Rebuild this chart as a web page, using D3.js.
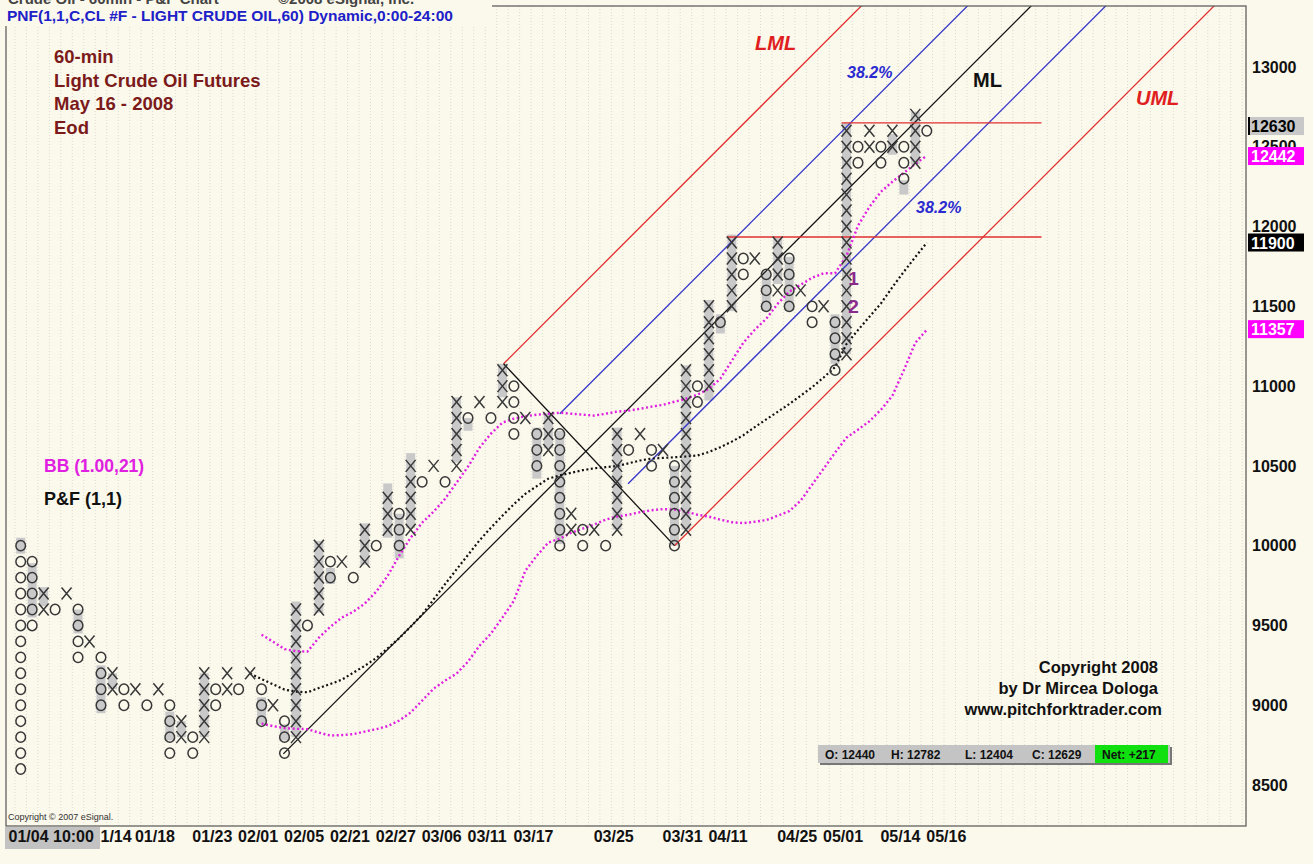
<!DOCTYPE html>
<html>
<head>
<meta charset="utf-8">
<script src="https://cdn.jsdelivr.net/npm/d3@7"></script>
<style>
  body { margin: 0; background: #fbf8ec; }
  svg { display: block; font-family: "Liberation Sans", Arial, sans-serif; }
</style>
</head>
<body>
<script>
var W = 1313, H = 864;

// P&F columns (box = 100), read column by column
var colType = ["O","O","X","O","X","O","X","O","X","O","X","O","X","O","X","O","X","O","X","O",
               "X","O","X","O","X","O","X","O","X","O","X","O","X","O","X","O","X","O","X","O",
               "X","O","X","O","X","O","X","O","X","O","X","O","X","O","X","O","X","O","X","O",
               "X","O","X","O","X","O","X","O","X","O","X","O","X","O","X","O","X","O","X","O"];
var colLow = [8600,9500,9600,9600,9700,9300,9400,9000,9100,9000, 9100,9000,9100,8700,8800,8700,8800,9000,9100,9100,
              9200,8900,9000,8700,8800,9500,9600,9800,9900,9800, 9900,10000,10100,10000,10100,10400,10500,10400,10500,10800,
              10900,10800,10900,10700,10800,10500,10600,10000,10100,10000, 10100,10000,10100,10600,10700,10500,10600,10000,10100,10900,
              11000,11400,11500,11700,11800,11500,11600,11500,11600,11400, 11500,11100,11200,12400,12500,12400,12500,12300,12400,12600];
var colHigh = [10000,9900,9700,9600,9700,9600,9400,9300,9200,9100, 9100,9000,9100,9000,8900,8800,9200,9100,9200,9100,
               9200,9100,9000,8900,9600,9500,10000,9900,9900,9800, 10100,10000,10300,10200,10500,10400,10500,10400,10900,10800,
               10900,10800,11100,11000,10800,10700,10800,10700,10200,10100, 10100,10000,10700,10600,10700,10600,10600,10500,11100,11000,
               11500,11400,11900,11800,11800,11700,11900,11800,11600,11500, 11500,11400,12600,12500,12600,12500,12600,12500,12700,12600];

// grey range shading behind some columns: [column, low, high]
var shades = [[0,9950,10050],[1,9550,9890],[2,9620,9740],[5,9450,9600],[7,8950,9250],[8,9100,9200],
              [13,8780,8960],[14,8800,8900],[16,8800,9200],[21,8880,9050],[23,8780,8880],[24,8800,9650],
              [26,9580,10030],[27,9760,9860],[30,9880,10140],[32,10050,10390],[33,9920,10200],[34,10110,10580],
              [38,10520,10930],[39,10720,10800],[42,10930,11140],[45,10420,10740],[46,10610,10830],[47,10010,10720],
              [52,10100,10740],[57,10000,10500],[58,10100,11130],[60,10910,11540],[61,11330,11450],[62,11470,11950],
              [65,11470,11720],[66,11640,11930],[67,11470,11810],[71,11140,11450],[72,11200,12650],[76,12450,12580],
              [77,12200,12290],[78,12390,12720]];

// Bollinger (1.00,21): middle from column 20, bands from column 21
var midStart = 20;
var midBand = [9198,9164,9131,9098,9085,9081,9108,9133,9160,9204, 9247,9296,9357,9420,9492,9568,9663,9759,9851,9942,
               10033,10113,10188,10260,10325,10373,10420,10440,10457,10473, 10485,10492,10499,10516,10534,10546,10550,10554,10559,10565,
               10587,10617,10652,10692,10743,10791,10839,10887,10940,10993, 11054,11119,11264,11351,11435,11518,11620,11717,11809,11899];
var bandStart = 21;
var upperBand = [9442,9398,9352,9339,9336,9424,9492,9549,9586,
                 9637,9712,9812,9937,10050,10144,10213,10294,10395,10495,
                 10614,10702,10771,10796,10811,10821,10827,10833,10827,10821,
                 10815,10827,10840,10846,10858,10871,10883,10902,10921,10946,
                 10984,11046,11159,11272,11353,11422,11516,11591,11635,11679,
                 11707,11707,11817,12005,12124,12218,12281,12337,12393,12444];
var lowerBand = [8885,8869,8857,8852,8850,8828,8810,8813,8819,
                 8835,8850,8869,8904,8954,9029,9104,9154,9198,9273,
                 9373,9449,9549,9655,9843,9937,10019,10044,10081,10107,
                 10132,10163,10182,10194,10210,10222,10229,10226,10213,10194,
                 10182,10163,10147,10141,10150,10160,10188,10216,10282,10382,
                 10482,10583,10677,10727,10780,10852,10940,11100,11272,11353];

// pitchfork: start points [column, price] and common slope (price per column)
var forkStartCol = [42.1, 47.0, 22.9, 52.95, 57.0];
var forkStartVal = [11140, 10827, 8695, 10388, 10000];
var forkColor = ["#e03030", "#3535c8", "#111111", "#3535c8", "#e03030"];
var forkSlope = 71.9;
var handle = [[42.1, 11140], [57.0, 10000]];
var hLines = [[72, 89, 12650], [62, 89, 11935]];

var yTicks = [8500, 9000, 9500, 10000, 10500, 11000, 11500, 12000, 12500, 13000];
var dateCols = [0, 7, 10, 15, 19, 23, 27, 31, 35, 39, 43, 50, 56, 60, 66, 70, 75, 79];
var dateLabels = ["01/04 10:00","1/14","01/18","01/23","02/01","02/05","02/21","02/27","03/06","03/11",
                  "03/17","03/25","03/31","04/11","04/25","05/01","05/14","05/16"];

var lastVals = [12630, 12442, 11900, 11357];
var lastBg = ["#c8c8c8", "#ff00ff", "#000000", "#ff00ff"];
var lastFg = ["#000000", "#ffffff", "#ffffff", "#ffffff"];

var ohlcLabels = ["O: 12440", "H: 12782", "L: 12404", "C: 12629", "Net: +217"];

var x = d3.scaleLinear().domain([0, 79]).range([20.7, 926.8]);
var y = d3.scaleLinear().domain([8500, 13000]).range([785, 67]);
var colW = x(1) - x(0);

var svg = d3.select("body").append("svg").attr("width", W).attr("height", H);
svg.append("rect").attr("width", W).attr("height", H).attr("fill", "#fbf8ec");

svg.append("defs").append("clipPath").attr("id", "plot")
    .append("rect").attr("x", 6).attr("y", 6).attr("width", 1240).attr("height", 820);

// faint dotted column grid
svg.append("g").selectAll("line")
    .data(d3.range(-1, 107)).enter()
    .append("line")
    .attr("x1", d => x(d) + colW / 2).attr("x2", d => x(d) + colW / 2)
    .attr("y1", 6).attr("y2", 826)
    .attr("stroke", "#dedad0").attr("stroke-width", 1)
    .attr("stroke-dasharray", "1,2");

var plot = svg.append("g").attr("clip-path", "url(#plot)");

// grey shading
plot.selectAll("rect.shade")
    .data(shades).enter()
    .append("rect")
    .attr("class", "shade")
    .attr("x", d => x(d[0]) - 4.5)
    .attr("y", d => y(d[2]))
    .attr("width", 9)
    .attr("height", d => y(d[1]) - y(d[2]))
    .attr("fill", "#c9c9c9");

// pitchfork lines
plot.selectAll("line.fork")
    .data(forkStartCol).enter()
    .append("line")
    .attr("x1", (d, i) => x(d))
    .attr("y1", (d, i) => y(forkStartVal[i]))
    .attr("x2", (d, i) => x(d + 80))
    .attr("y2", (d, i) => y(forkStartVal[i] + 80 * forkSlope))
    .attr("stroke", (d, i) => forkColor[i])
    .attr("stroke-width", 1.3);

plot.append("line")
    .attr("x1", x(handle[0][0])).attr("y1", y(handle[0][1]))
    .attr("x2", x(handle[1][0])).attr("y2", y(handle[1][1]))
    .attr("stroke", "#111").attr("stroke-width", 1.3);

plot.selectAll("line.hl")
    .data(hLines).enter()
    .append("line")
    .attr("x1", d => x(d[0]) - 5).attr("x2", d => x(d[1]))
    .attr("y1", d => y(d[2])).attr("y2", d => y(d[2]))
    .attr("stroke", "#e03030").attr("stroke-width", 1.4);

// Bollinger dotted curves
var line = d3.line().x(d => x(d[0])).y(d => y(d[1]));
function pts(start, arr) { return arr.map((v, i) => [start + i, v]); }

plot.append("path").datum(pts(bandStart, upperBand)).attr("d", line)
    .attr("fill", "none").attr("stroke", "#e020e0").attr("stroke-width", 2.4).attr("stroke-dasharray", "2,2.5");
plot.append("path").datum(pts(bandStart, lowerBand)).attr("d", line)
    .attr("fill", "none").attr("stroke", "#e020e0").attr("stroke-width", 2.4).attr("stroke-dasharray", "2,2.5");
plot.append("path").datum(pts(midStart, midBand)).attr("d", line)
    .attr("fill", "none").attr("stroke", "#111").attr("stroke-width", 2.2).attr("stroke-dasharray", "2,2.5");

// X and O boxes
var boxes = [];
colType.forEach(function (t, i) {
    for (var v = colLow[i]; v <= colHigh[i]; v += 100) boxes.push({ c: i, v: v, t: t });
});

plot.selectAll("path.x")
    .data(boxes.filter(d => d.t == "X")).enter()
    .append("path")
    .attr("d", d => {
        var cx = x(d.c), cy = y(d.v);
        return "M" + (cx - 5) + "," + (cy - 6) + "L" + (cx + 5) + "," + (cy + 6) +
               "M" + (cx + 5) + "," + (cy - 6) + "L" + (cx - 5) + "," + (cy + 6);
    })
    .attr("stroke", "#383838").attr("stroke-width", 1.5).attr("fill", "none");

plot.selectAll("ellipse.o")
    .data(boxes.filter(d => d.t == "O")).enter()
    .append("ellipse")
    .attr("cx", d => x(d.c)).attr("cy", d => y(d.v))
    .attr("rx", 4.8).attr("ry", 5.2)
    .attr("stroke", "#383838").attr("stroke-width", 1.5).attr("fill", "none");

// month digits in the big X column
plot.selectAll("text.month")
    .data([[72, 11680, "1"], [72, 11500, "2"]]).enter()
    .append("text")
    .attr("x", d => x(d[0]) + 7).attr("y", d => y(d[1]) + 7)
    .attr("text-anchor", "middle")
    .attr("font-size", "19px").attr("font-weight", "bold")
    .attr("fill", "#8a2a8a").text(d => d[2]);

// frame
svg.append("rect").attr("x", 6).attr("y", 6).attr("width", 1240).attr("height", 820)
    .attr("fill", "none").attr("stroke", "#555").attr("stroke-width", 1.2);

// header
svg.append("rect").attr("x", 0).attr("y", 0).attr("width", 492).attr("height", 26).attr("fill", "#fbf8ec");
svg.append("text").attr("x", 8).attr("y", 4).attr("font-size", "15px").attr("font-weight", "bold")
    .attr("fill", "#444").text("Crude Oil - 60min - P&F Chart");
svg.append("text").attr("x", 278).attr("y", 4).attr("font-size", "15px").attr("font-weight", "bold")
    .attr("fill", "#444").text("\u00a92008 eSignal, Inc.");
svg.append("text").attr("x", 7).attr("y", 21).attr("font-size", "15.5px").attr("font-weight", "bold")
    .attr("fill", "#2020c8").text("PNF(1,1,C,CL #F - LIGHT CRUDE OIL,60) Dynamic,0:00-24:00");

svg.selectAll("text.info")
    .data(["60-min", "Light Crude Oil Futures", "May 16 - 2008", "Eod"]).enter()
    .append("text")
    .attr("x", 54).attr("y", (d, i) => 63 + i * 23.5)
    .attr("font-size", "18.5px").attr("font-weight", "bold")
    .attr("fill", "#7b1a1a").text(d => d);

// labels on the pitchfork
function label(txt, lx, ly, size, color, italic) {
    svg.append("text").attr("x", lx).attr("y", ly)
        .attr("font-size", size).attr("font-weight", "bold")
        .attr("font-style", italic ? "italic" : "normal")
        .attr("fill", color).text(txt);
}
label("LML", 755, 50, "20px", "#e02020", true);
label("UML", 1136, 105, "20px", "#e02020", true);
label("ML", 973, 87, "20px", "#111", false);
label("38.2%", 847, 78, "16px", "#2a2ad0", true);
label("38.2%", 916, 213, "16px", "#2a2ad0", true);
label("BB (1.00,21)", 44, 472, "17.5px", "#e020e0", false);
label("P&F (1,1)", 44, 505, "18px", "#111", false);

svg.selectAll("text.copy")
    .data(["Copyright 2008", "by Dr Mircea Dologa", "www.pitchforktrader.com"]).enter()
    .append("text")
    .attr("x", (d, i) => i == 2 ? 1162 : 1158)
    .attr("y", (d, i) => 673 + i * 21)
    .attr("text-anchor", "end")
    .attr("font-size", "16.5px").attr("font-weight", "bold")
    .attr("fill", "#111").text(d => d);

svg.append("text").attr("x", 8).attr("y", 820).attr("font-size", "9px").attr("fill", "#333")
    .text("Copyright \u00a9 2007 eSignal.");

// OHLC bar
svg.append("rect").attr("x", 820).attr("y", 747).attr("width", 352).attr("height", 18).attr("fill", "#777");
svg.append("rect").attr("x", 818).attr("y", 745).attr("width", 352).attr("height", 18).attr("fill", "#c4c4c4");
svg.append("rect").attr("x", 1095).attr("y", 745).attr("width", 73).attr("height", 18).attr("fill", "#10e010");
svg.selectAll("text.ohlc")
    .data(ohlcLabels).enter()
    .append("text")
    .attr("x", (d, i) => [825, 891, 965, 1032, 1102][i])
    .attr("y", 759)
    .attr("font-size", "12px").attr("font-weight", "bold")
    .attr("fill", "#111").text(d => d);

// right price axis
var yAxis = d3.axisRight(y).tickValues(yTicks).tickSize(0).tickPadding(6).tickFormat(d3.format("d"));
var gy = svg.append("g").attr("transform", "translate(1246,0)").call(yAxis);
gy.select(".domain").remove();
gy.selectAll("text").attr("font-size", "16px").attr("font-weight", "bold").attr("fill", "#111")
    .attr("font-family", "'Liberation Sans', Arial, sans-serif");

var tags = svg.append("g").selectAll("g")
    .data(lastVals).enter()
    .append("g")
    .attr("transform", d => "translate(1248," + y(d) + ")");
tags.append("rect").attr("x", 0).attr("y", -9).attr("width", 56).attr("height", 18)
    .attr("fill", (d, i) => lastBg[i]);
tags.append("text").attr("x", 3).attr("y", 6)
    .attr("font-size", "16px").attr("font-weight", "bold")
    .attr("fill", (d, i) => lastFg[i]).text(d => d);
svg.append("line").attr("x1", 1249).attr("x2", 1249).attr("y1", y(12630) - 9).attr("y2", y(12630) + 9)
    .attr("stroke", "#000").attr("stroke-width", 2);

// bottom date axis
svg.append("rect").attr("x", 5).attr("y", 827).attr("width", 95).attr("height", 22).attr("fill", "#c2c2c2");
var xAxis = d3.axisBottom(x).tickValues(dateCols).tickSize(0).tickPadding(5)
    .tickFormat((d, i) => dateLabels[i]);
var gx = svg.append("g").attr("transform", "translate(0,826)").call(xAxis);
gx.select(".domain").remove();
gx.selectAll("text")
    .attr("text-anchor", "start")
    .attr("x", (d, i) => i == 0 ? 8 - x(0) : -1)
    .attr("font-size", "16px").attr("font-weight", "bold").attr("fill", "#111")
    .attr("font-family", "'Liberation Sans', Arial, sans-serif");
</script>
</body>
</html>
